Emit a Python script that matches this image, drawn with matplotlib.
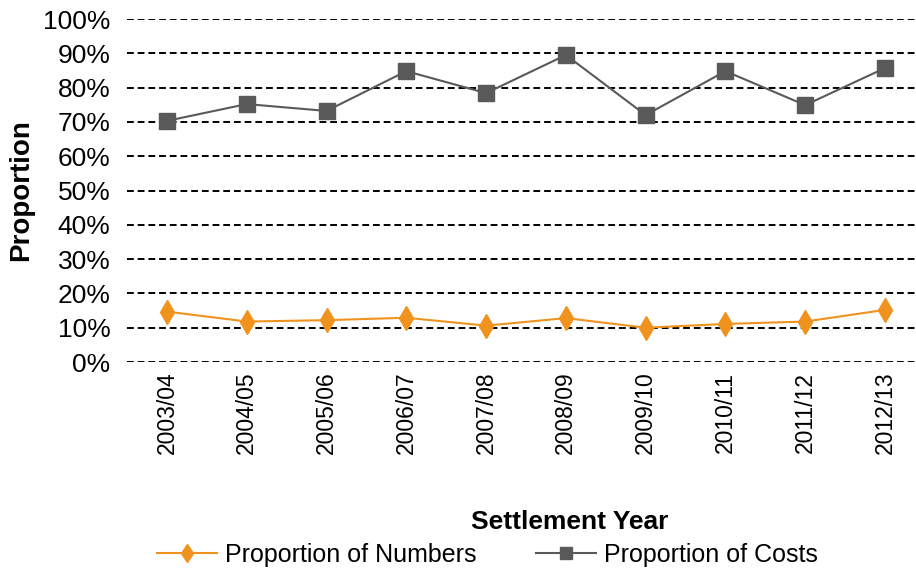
import matplotlib.pyplot as plt
from matplotlib.ticker import PercentFormatter

plt.rcParams['font.family'] = ['Liberation Sans', 'DejaVu Sans']

years = ['2003/04', '2004/05', '2005/06', '2006/07', '2007/08',
         '2008/09', '2009/10', '2010/11', '2011/12', '2012/13']
prop_numbers = [14.7, 11.8, 12.2, 12.9, 10.6, 12.8, 10.0, 11.1, 11.8, 15.2]
prop_costs = [70.3, 75.2, 73.2, 84.8, 78.4, 89.5, 72.0, 84.8, 74.9, 85.7]

fig = plt.figure(figsize=(9.16, 5.71), dpi=100)
ax = fig.add_axes([0.1387, 0.366, 0.871, 0.6007])

x = range(len(years))
ax.plot(x, prop_numbers, color='#F0921E', lw=1.5, marker='d', ms=12,
        label='Proportion of Numbers', zorder=3)
ax.plot(x, prop_costs, color='#595959', lw=1.5, marker='s', ms=11.5,
        label='Proportion of Costs', zorder=3)

ax.set_xlim(-0.5, len(years) - 0.5)
ax.set_ylim(0, 100)
ax.set_yticks(range(0, 101, 10))
ax.yaxis.set_major_formatter(PercentFormatter(decimals=0))
ax.set_xticks(list(x))
ax.set_xticklabels(years, rotation=90)
ax.tick_params(axis='y', length=0, labelsize=19, pad=12)
ax.tick_params(axis='x', length=0, labelsize=16.5, pad=7)
ax.grid(axis='y', color='black', linestyle=(0, (3.5, 2)), lw=1.4, zorder=1)
for s in ax.spines.values():
    s.set_visible(False)

ax.set_ylabel('Proportion', fontsize=20, fontweight='bold')
ax.yaxis.set_label_coords(-0.116, 0.5)
ax.set_xlabel('Settlement Year', fontsize=19, fontweight='bold')
ax.xaxis.set_label_coords(0.555, -0.43)

fig.legend(loc='center', bbox_to_anchor=(0.532, 0.028), ncol=2,
           frameon=False, fontsize=18, handlelength=2.4, handletextpad=0.3,
           columnspacing=2.4, markerscale=0.8)

fig.savefig('out.png', dpi=100)
